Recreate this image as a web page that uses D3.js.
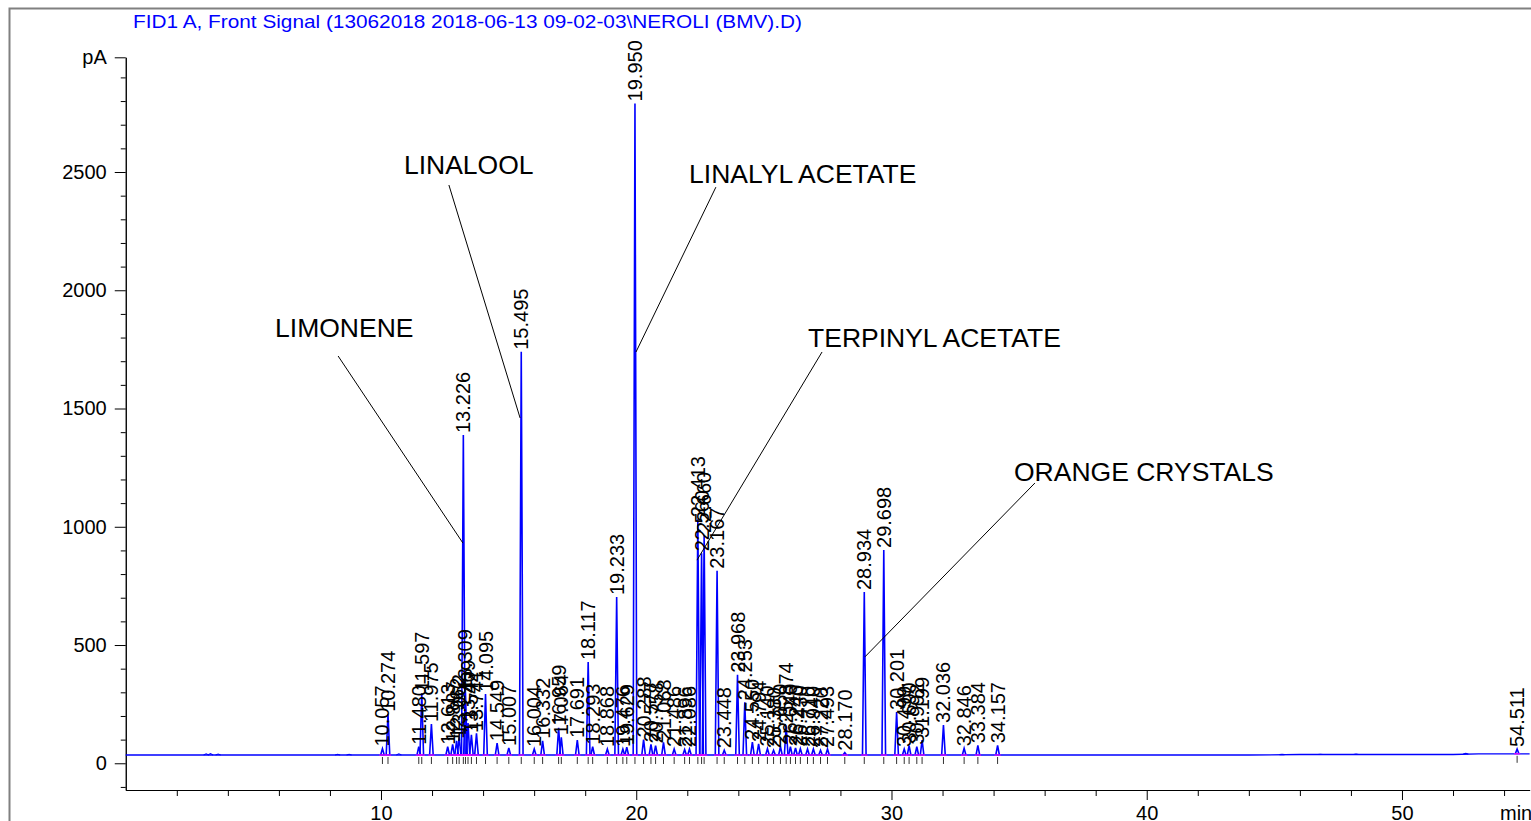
<!DOCTYPE html>
<html>
<head>
<meta charset="utf-8">
<script src="https://cdn.jsdelivr.net/npm/d3@7"></script>
<style>
body { margin: 0; background: #fff; }
svg text { font-family: "Liberation Sans", Arial, sans-serif; }
</style>
</head>
<body>
<div id="chart"></div>
<script>
var w = 1531;
var h = 821;

var title = "FID1 A, Front Signal (13062018 2018-06-13 09-02-03\\NEROLI (BMV).D)";

// labelled peaks: retention time (min) and apex signal (pA)
var peakTimes = [10.057, 10.274, 11.480, 11.597, 11.975, 12.613, 12.807, 12.962, 13.062, 13.226,
	13.309, 13.409, 13.542, 13.741, 14.095, 14.549, 15.007, 15.495, 16.004, 16.332,
	16.959, 17.064, 17.691, 18.117, 18.293, 18.868, 19.233, 19.476, 19.629, 19.950,
	20.288, 20.577, 20.758, 21.068, 21.486, 21.896, 22.086, 22.413, 22.560, 22.660,
	23.167, 23.448, 23.968, 24.253, 24.550, 24.794, 25.140, 25.380, 25.650, 25.874,
	26.040, 26.240, 26.430, 26.710, 26.940, 27.220, 27.493, 28.170, 28.934, 29.698,
	30.201, 30.499, 30.690, 30.992, 31.199, 32.036, 32.846, 33.384, 34.157, 54.511];
var peakHeights = [62, 209, 70, 296, 166, 70, 80, 95, 110, 1388,
	300, 170, 120, 127, 293, 85, 65, 1740, 60, 95,
	150, 110, 98, 428, 70, 60, 703, 60, 68, 2790,
	100, 80, 75, 88, 60, 58, 60, 1032, 888, 965,
	814, 55, 374, 258, 90, 82, 62, 55, 70, 160,
	70, 65, 62, 60, 60, 55, 60, 45, 724, 902,
	217, 60, 75, 70, 98, 162, 63, 76, 76, 60];

// small unlabelled bumps on the baseline
var bumpTimes = [3.15, 3.32, 3.62, 8.30, 8.75, 10.70, 45.3, 46.8, 48.2, 52.5];
var bumpHeights = [40, 41, 39, 38, 38, 40, 38, 38, 39, 42];

// baseline level of the detector signal
var baseTimes = [0, 44, 46, 52, 53, 55];
var baseLevels = [35, 35, 37, 37, 40, 40];

var xTicks = [10, 20, 30, 40, 50];
var yTicks = [0, 500, 1000, 1500, 2000, 2500];

var annoNames = ["LIMONENE", "LINALOOL", "LINALYL ACETATE", "TERPINYL ACETATE", "ORANGE CRYSTALS"];
// text anchor, leader start, leader end (min, pA)
var annoText = [[5.85, 1802], [10.90, 2491], [22.07, 2453], [26.73, 1760], [34.80, 1193]];
var annoFrom = [[8.32, 1722], [12.66, 2445], [23.12, 2436], [27.28, 1739], [35.62, 1185]];
var annoTo = [[13.21, 931], [15.45, 1460], [19.99, 1739], [22.38, 859], [28.96, 450]];

var svg = d3.select("#chart")
	.append("svg")
	.attr("width", w)
	.attr("height", h);

var x = d3.scaleLinear().domain([0, 55]).range([125.75, 1529.6]);
var y = d3.scaleLinear().domain([-113, 2985]).range([790, 57.3]);
var base = d3.scaleLinear().domain(baseTimes).range(baseLevels);

// outer frame
svg.append("path")
	.attr("d", "M9.5," + h + "V8.5H" + (w + 2))
	.attr("fill", "none")
	.attr("stroke", "#808080")
	.attr("stroke-width", 2);

svg.append("text")
	.attr("x", 133)
	.attr("y", 28)
	.attr("font-size", 19)
	.attr("textLength", 669)
	.attr("lengthAdjust", "spacingAndGlyphs")
	.attr("fill", "#0000ff")
	.text(title);

// axes
var yTop = y.domain()[1];
var yAxis = d3.axisLeft(y)
	.tickValues(yTicks.concat([yTop]))
	.tickSize(11)
	.tickSizeOuter(0)
	.tickPadding(8)
	.tickFormat(function(d) { return d === yTop ? "pA" : d; });
var yMinor = d3.axisLeft(y)
	.tickValues(d3.range(-100, 3000, 100).filter(function(d) { return d % 500 !== 0; }))
	.tickSize(5)
	.tickSizeOuter(0)
	.tickFormat("");

svg.append("g").attr("transform", "translate(" + x(0) + ",0)").call(yAxis);
svg.append("g").attr("transform", "translate(" + x(0) + ",0)").call(yMinor);

var xAxis = d3.axisBottom(x)
	.tickValues(xTicks)
	.tickSize(10)
	.tickSizeOuter(0)
	.tickPadding(6);
var xMinor = d3.axisBottom(x)
	.tickValues(d3.range(2, 56, 2).filter(function(d) { return d % 10 !== 0; }))
	.tickSize(6)
	.tickSizeOuter(0)
	.tickFormat("");

svg.append("g").attr("transform", "translate(0," + y.range()[0] + ")").call(xAxis);
svg.append("g").attr("transform", "translate(0," + y.range()[0] + ")").call(xMinor);

svg.selectAll(".tick text")
	.attr("font-size", 20)
	.attr("font-family", "Liberation Sans, Arial, sans-serif")
	.attr("fill", "#000");
svg.selectAll(".domain, .tick line").attr("stroke", "#000");

svg.append("text")
	.attr("x", 1500)
	.attr("y", 820)
	.attr("font-size", 20)
	.text("min");

// signal trace
var line = d3.line()
	.x(function(d) { return x(d[0]); })
	.y(function(d) { return y(d[1]); });

svg.append("path")
	.attr("d", line(baseTimes.map(function(t, i) { return [t, baseLevels[i]]; })))
	.attr("fill", "none")
	.attr("stroke", "#0000ff")
	.attr("stroke-width", 1.3);

var hw = 0.07;
var bumps = bumpTimes.map(function(t, i) { return { t: t, v: bumpHeights[i] }; });
svg.selectAll("path.bump")
	.data(bumps)
	.enter()
	.append("path")
	.attr("class", "bump")
	.attr("d", function(d) {
		return line([[d.t - 0.1, base(d.t)], [d.t, d.v], [d.t + 0.1, base(d.t)]]);
	})
	.attr("fill", "none")
	.attr("stroke", "#0000ff")
	.attr("stroke-width", 1.2);

var peaks = peakTimes.map(function(t, i) { return { t: t, v: peakHeights[i] }; });

svg.selectAll("path.peak")
	.data(peaks)
	.enter()
	.append("path")
	.attr("class", "peak")
	.attr("d", function(d) {
		return line([[d.t - hw, base(d.t)], [d.t, d.v], [d.t + hw, base(d.t)]]);
	})
	.attr("fill", "none")
	.attr("stroke", "#0000ff")
	.attr("stroke-width", 1.6);

// integration baselines
svg.selectAll("line.bl")
	.data(peaks)
	.enter()
	.append("line")
	.attr("class", "bl")
	.attr("x1", function(d) { return x(d.t - 0.12); })
	.attr("x2", function(d) { return x(d.t + 0.12); })
	.attr("y1", function(d) { return y(base(d.t)); })
	.attr("y2", function(d) { return y(base(d.t)); })
	.attr("stroke", "#ff00ff")
	.attr("stroke-width", 1.2);

// retention time marks
svg.selectAll("line.rt")
	.data(peaks)
	.enter()
	.append("line")
	.attr("class", "rt")
	.attr("x1", function(d) { return x(d.t); })
	.attr("x2", function(d) { return x(d.t); })
	.attr("y1", function(d) { return y(base(d.t)) + 2; })
	.attr("y2", function(d) { return y(base(d.t)) + 9; })
	.attr("stroke", "#333")
	.attr("stroke-width", 1);

// peak labels
svg.selectAll("text.rtl")
	.data(peaks)
	.enter()
	.append("text")
	.attr("class", "rtl")
	.attr("transform", function(d) {
		return "translate(" + x(d.t) + "," + (y(d.v) - 2) + ") rotate(-90)";
	})
	.attr("dy", "0.35em")
	.attr("font-size", 20)
	.attr("fill", "#000")
	.text(function(d) { return d.t.toFixed(3); });

// compound annotations
annoNames.forEach(function(name, i) {
	svg.append("text")
		.attr("x", x(annoText[i][0]))
		.attr("y", y(annoText[i][1]))
		.attr("font-size", 26.5)
		.attr("fill", "#000")
		.text(name);
	svg.append("line")
		.attr("x1", x(annoFrom[i][0]))
		.attr("y1", y(annoFrom[i][1]))
		.attr("x2", x(annoTo[i][0]))
		.attr("y2", y(annoTo[i][1]))
		.attr("stroke", "#000")
		.attr("stroke-width", 1);
});
</script>
</body>
</html>
